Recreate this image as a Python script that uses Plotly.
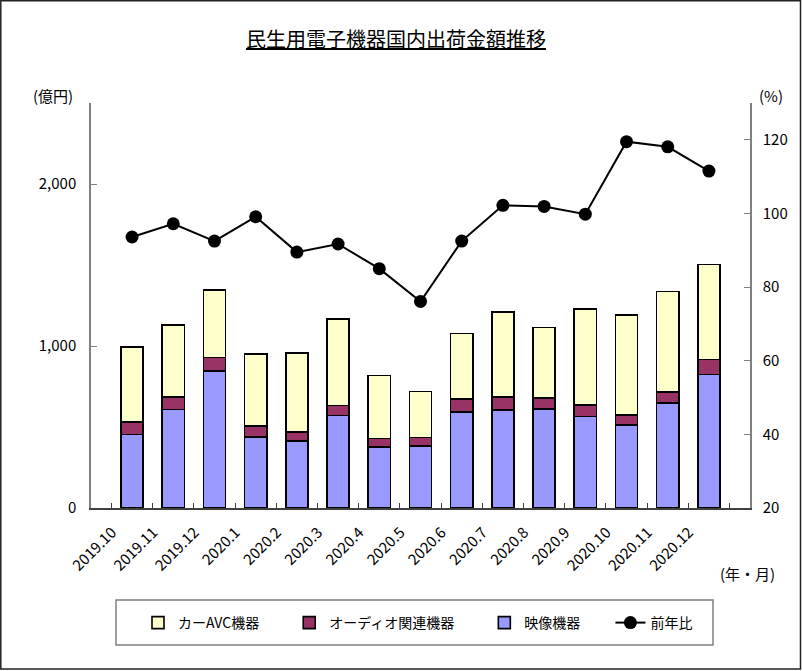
import plotly.graph_objects as go

months = ["2019.10", "2019.11", "2019.12", "2020.1", "2020.2", "2020.3", "2020.4", "2020.5",
          "2020.6", "2020.7", "2020.8", "2020.9", "2020.10", "2020.11", "2020.12"]
# 映像機器 (億円)
video = [453, 609, 844, 438, 414, 570, 377, 383, 591, 604, 610, 565, 514, 649, 824]
# オーディオ関連機器 (億円)
audio = [78, 76, 84, 68, 57, 62, 51, 52, 81, 80, 68, 72, 61, 66, 93]
# カーAVC機器 (億円)
car_avc = [463, 445, 418, 443, 486, 533, 391, 283, 405, 525, 436, 590, 615, 621, 586]
# 前年比 (%)
yoy = [93.6, 97.2, 92.5, 99.1, 89.5, 91.7, 85.0, 76.1, 92.5, 102.2, 101.9, 99.8, 119.5, 118.1, 111.5]

FONT = "Noto Sans CJK JP"
W, H = 802, 671
ML, MR, MT, MB = 91, 52, 103, 163
PW, PH = W - ML - MR, H - MT - MB
PAD = "\u00a0" * 8

def px(x):
    return (x - ML) / PW

def py(y):
    return (H - MB - y) / PH

fig = go.Figure()
fig.add_trace(go.Bar(x=months, y=video, name="映像機器" + PAD, legendrank=3,
                     marker=dict(color="#9999FF", line=dict(color="black", width=1.6))))
fig.add_trace(go.Bar(x=months, y=audio, name="オーディオ関連機器" + PAD, legendrank=2,
                     marker=dict(color="#993366", line=dict(color="black", width=1.6))))
fig.add_trace(go.Bar(x=months, y=car_avc, name="カーAVC機器" + PAD, legendrank=1,
                     marker=dict(color="#FFFFCC", line=dict(color="black", width=1.6))))
fig.add_trace(go.Scatter(x=months, y=yoy, name="前年比", yaxis="y2", legendrank=4,
                         mode="lines+markers",
                         line=dict(color="black", width=2),
                         marker=dict(color="black", size=13, symbol="circle")))

fig.update_layout(
    width=W, height=H,
    margin=dict(l=ML, r=MR, t=MT, b=MB),
    paper_bgcolor="white", plot_bgcolor="white",
    barmode="stack", bargap=0.46,
    font=dict(family=FONT, size=15, color="black"),
    showlegend=True,
    title=dict(text="<u>民生用電子機器国内出荷金額推移</u>", x=396 / W, xanchor="center",
               y=1 - 40 / H, yanchor="middle", yref="container",
               font=dict(family=FONT, size=20, color="black")),
    xaxis=dict(type="category", tickangle=-45, tickson="boundaries", ticks="inside",
               ticklen=5, tickcolor="#404040", showline=True, linecolor="#404040",
               linewidth=1.5, showgrid=False, tickfont=dict(size=15),
               ticklabelshift=-20, ticklabelstandoff=8),
    yaxis=dict(range=[0, 2500], dtick=1000, tickformat=",", ticks="inside", ticklen=6,
               tickcolor="#808080", showline=True, linecolor="#808080", linewidth=1.5,
               showgrid=False, zeroline=False, tickfont=dict(size=15),
               ticklabelstandoff=10),
    yaxis2=dict(range=[20, 130], tick0=20, dtick=20, overlaying="y", side="right",
                ticks="inside", ticklen=6, tickcolor="#808080", showline=True,
                linecolor="#808080", linewidth=1.5, showgrid=False, zeroline=False,
                tickfont=dict(size=15), ticklabelstandoff=8),
    legend=dict(orientation="h", x=px(138), xanchor="left", y=py(623), yanchor="middle",
                traceorder="normal", borderwidth=0, bgcolor="rgba(0,0,0,0)",
                font=dict(size=14)),
    annotations=[
        dict(text="(億円)", x=px(53), y=py(95), xref="paper", yref="paper",
             xanchor="center", yanchor="middle", showarrow=False, font=dict(size=15)),
        dict(text="(%)", x=px(771), y=py(95), xref="paper", yref="paper",
             xanchor="center", yanchor="middle", showarrow=False, font=dict(size=15)),
        dict(text="(年・月)", x=px(747), y=py(573), xref="paper", yref="paper",
             xanchor="center", yanchor="middle", showarrow=False, font=dict(size=15)),
    ],
    shapes=[
        dict(type="rect", xref="paper", yref="paper",
             x0=px(0.8), x1=px(800.5), y0=py(669), y1=py(0.8),
             line=dict(color="#222222", width=1.5), fillcolor="rgba(0,0,0,0)", layer="below"),
        dict(type="rect", xref="paper", yref="paper",
             x0=px(116), x1=px(713), y0=py(645), y1=py(600),
             line=dict(color="#808080", width=1.5), fillcolor="rgba(0,0,0,0)", layer="below"),
    ],
)

fig.write_html("out.html", config={"displayModeBar": False},
               post_script="document.body.style.margin='0';document.body.style.overflow='hidden';")
